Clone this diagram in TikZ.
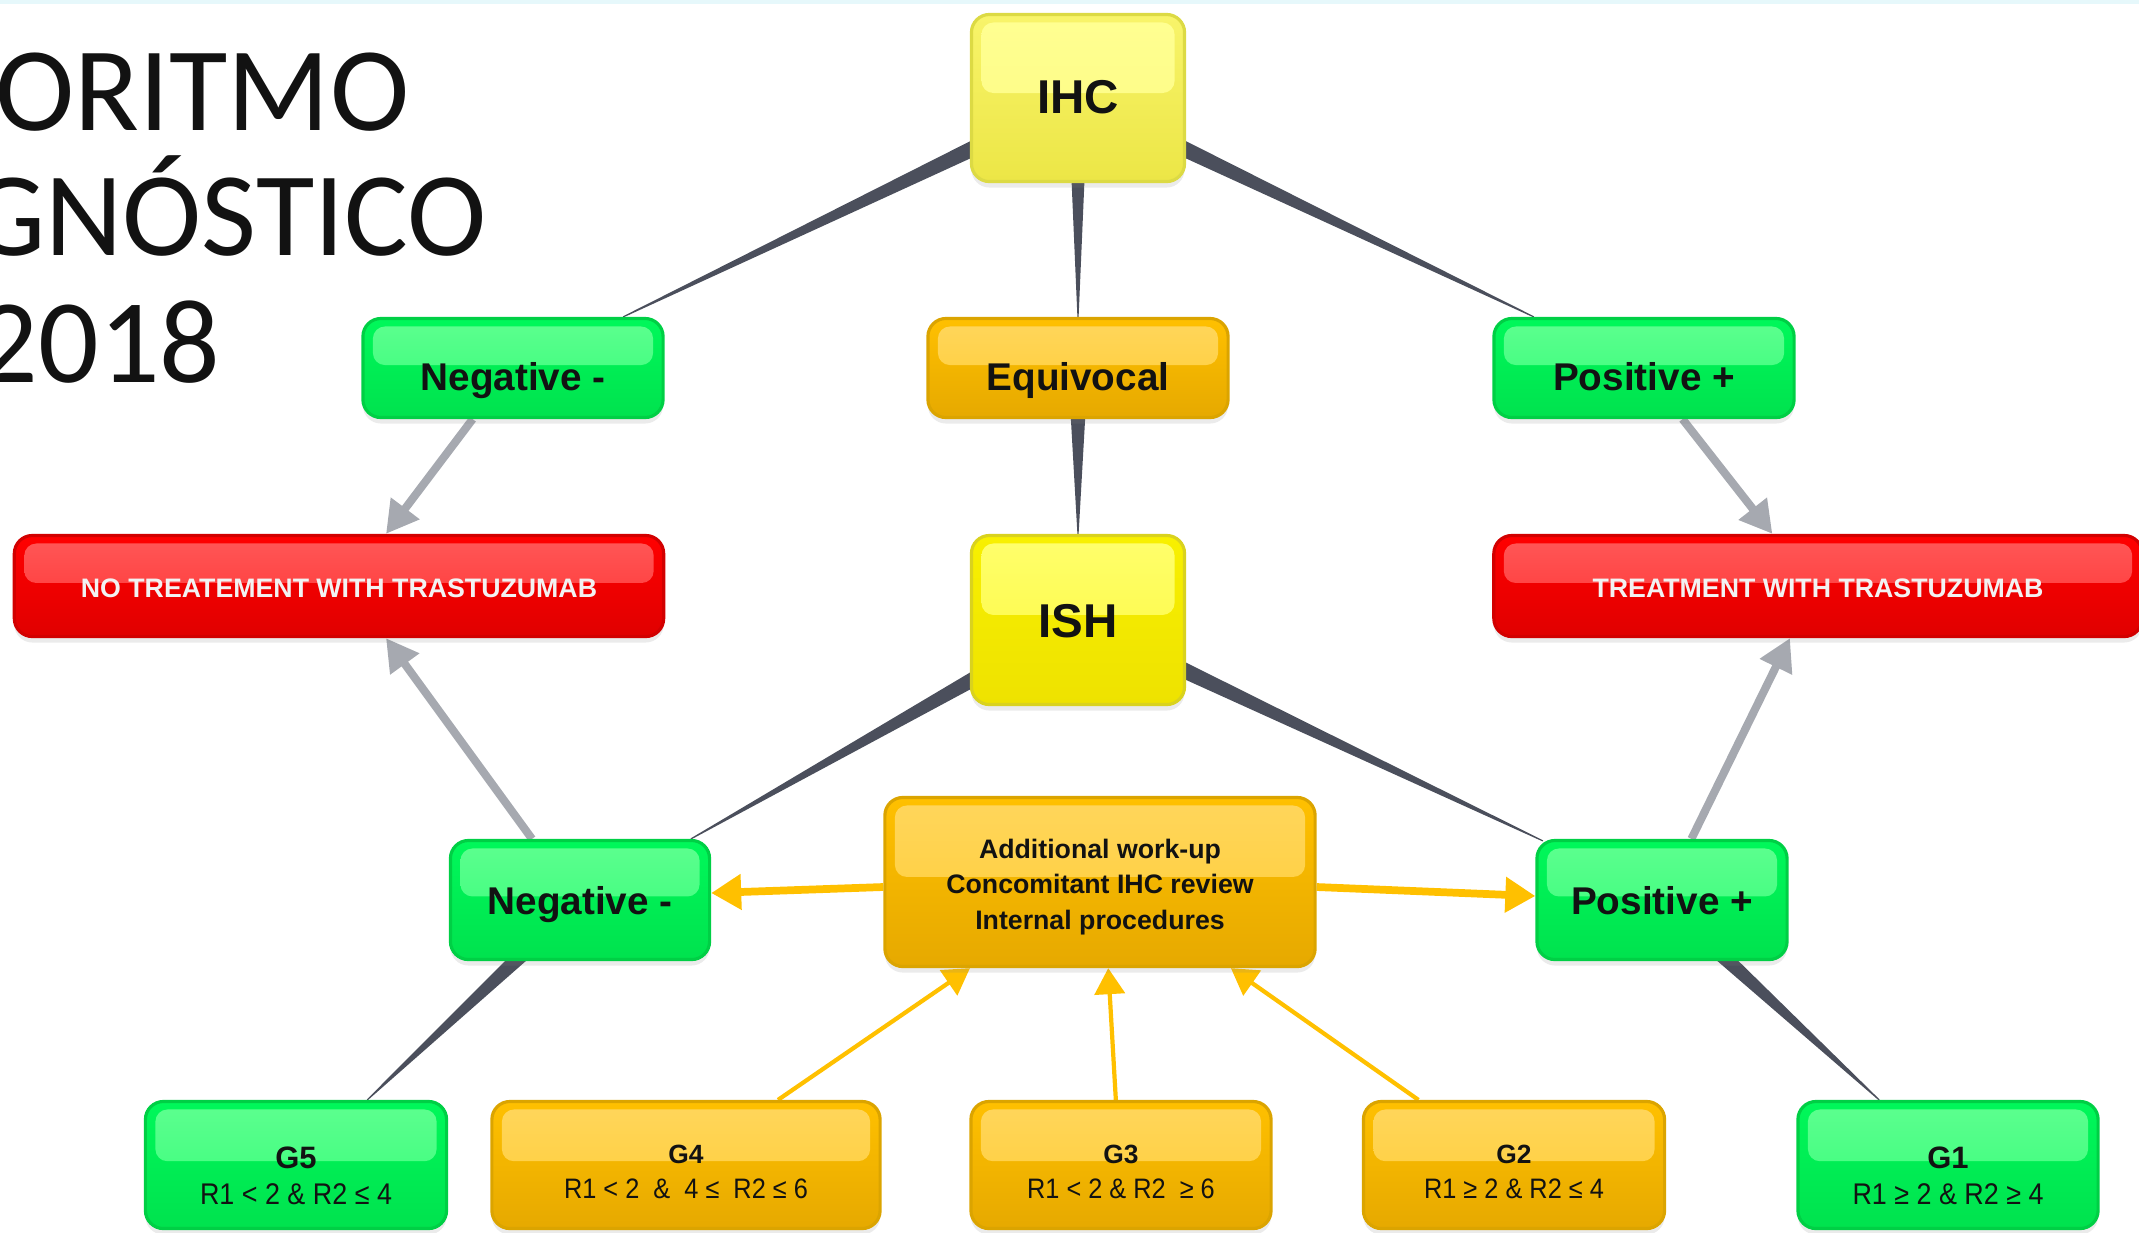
\documentclass[tikz,border=0pt]{standalone}
\usepackage{fontspec}
\setmainfont{Liberation Sans}
\newfontfamily\titlefont{Carlito}
\newfontfamily\condfont[FakeStretch=0.9]{Liberation Sans}
\usetikzlibrary{calc,arrows.meta,shadows,backgrounds}

% box palettes: B border, T top, D bottom, H gloss
\definecolor{grnB}{HTML}{00CF45}
\definecolor{grnT}{HTML}{00F85A}
\definecolor{grnD}{HTML}{00E24E}
\definecolor{grnH}{HTML}{5DFF8F}
\definecolor{ornB}{HTML}{DBA400}
\definecolor{ornT}{HTML}{FFC000}
\definecolor{ornD}{HTML}{E6A900}
\definecolor{ornH}{HTML}{FFD65C}
\definecolor{redB}{HTML}{D20000}
\definecolor{redT}{HTML}{FF0000}
\definecolor{redD}{HTML}{E00000}
\definecolor{redH}{HTML}{FF5858}
\definecolor{lylB}{HTML}{DCDA44}
\definecolor{lylT}{HTML}{F8F46A}
\definecolor{lylD}{HTML}{ECE646}
\definecolor{lylH}{HTML}{FFFF92}
\definecolor{ylwB}{HTML}{D9D21E}
\definecolor{ylwT}{HTML}{F8F000}
\definecolor{ylwD}{HTML}{EEE200}
\definecolor{ylwH}{HTML}{FFFF6C}
\definecolor{darkLink}{HTML}{4B4F5C}
\definecolor{grayLink}{HTML}{A6A9B0}
\definecolor{amberLink}{HTML}{FFC000}
\definecolor{ink}{HTML}{121212}
\definecolor{paleInk}{HTML}{F2F2F2}
\definecolor{topBand}{HTML}{E6F8FB}

\tikzset{
  box/.style={rectangle, rounded corners=0.18cm, draw=#1B, line width=0.9pt,
    top color=#1T, bottom color=#1D, inner sep=0pt,
    drop shadow={opacity=0.16, shadow xshift=0pt, shadow yshift=-0.06cm},
    path picture={\shade[top color=#1H, bottom color=#1H!55!#1T, rounded corners=0.12cm]
      ([xshift=0.1cm,yshift=-0.08cm]path picture bounding box.north west) rectangle
      ($(path picture bounding box.north east)!0.47!(path picture bounding box.south east)+(-0.1cm,0)$);}},
  lbl/.style={inner sep=0pt, anchor=base, text=ink, font=\bfseries\fontsize{11}{13}\selectfont},
  titletext/.style={inner sep=0pt, anchor=base east, text=ink, font=\titlefont\fontsize{34}{40}\selectfont},
  glink/.style={draw=grayLink, line width=2.3pt, -{Triangle[length=0.32cm,width=0.34cm]}},
  alink/.style={draw=amberLink, line width=2.2pt, -{Triangle[length=0.3cm,width=0.34cm]}},
  athin/.style={draw=amberLink, line width=1.2pt, -{Triangle[length=0.26cm,width=0.3cm]}},
  wedge/.style={fill=darkLink}
}

\newcommand\taper[2]{%
  \fill[wedge] ($(#1)!0.1cm!90:(#2)$) -- ($(#1)!0.1cm!-90:(#2)$)
    -- ($(#2)!0.006cm!90:(#1)$) -- ($(#2)!0.006cm!-90:(#1)$) -- cycle;}

\begin{document}
\begin{tikzpicture}[x=0.01cm, y=-0.01cm]
\useasboundingbox (0,0) rectangle (2139,1232);
\clip (0,0) rectangle (2139,1232);
\fill[topBand] (0,0) rectangle (2139,4);

% title
\node[titletext] (t1) at (410,130) {GORITMO};
\node[titletext] (t2) at (487,255) {GNÓSTICO};
\node[titletext] (t3) at (221,382) {2018};

% boxes
\node[box=lyl, minimum width=2.13cm, minimum height=1.67cm] (ihc) at (1078,98) {};
\node[box=grn, minimum width=3cm, minimum height=0.99cm] (negT) at (513,368) {};
\node[box=orn, minimum width=3cm, minimum height=0.99cm] (equ) at (1078,368) {};
\node[box=grn, minimum width=3cm, minimum height=0.99cm] (posT) at (1644,368) {};
\node[box=red, minimum width=6.49cm, minimum height=1.01cm] (noT) at (339,586) {};
\node[box=red, minimum width=6.48cm, minimum height=1.01cm] (yesT) at (1818,586) {};
\node[box=ylw, minimum width=2.13cm, minimum height=1.69cm] (ish) at (1078,620) {};
\node[box=grn, minimum width=2.59cm, minimum height=1.19cm] (negM) at (580,900) {};
\node[box=orn, minimum width=4.30cm, minimum height=1.69cm] (add) at (1100,882) {};
\node[box=grn, minimum width=2.50cm, minimum height=1.19cm] (posM) at (1662,900) {};
\node[box=grn, minimum width=3.01cm, minimum height=1.27cm] (g5) at (296,1165) {};
\node[box=orn, minimum width=3.88cm, minimum height=1.27cm] (g4) at (686,1165) {};
\node[box=orn, minimum width=3.00cm, minimum height=1.27cm] (g3) at (1121,1165) {};
\node[box=orn, minimum width=3.01cm, minimum height=1.27cm] (g2) at (1514,1165) {};
\node[box=grn, minimum width=3.00cm, minimum height=1.27cm] (g1) at (1948,1165) {};

% texts
\node[lbl, font=\bfseries\fontsize{13.5}{16}\selectfont] (ihcL) at ([yshift=-0.15cm]ihc.center) {IHC};
\node[lbl, font=\bfseries\fontsize{13.5}{16}\selectfont] (ishL) at ([yshift=-0.17cm]ish.center) {ISH};
\node[lbl] (negTL) at ([yshift=-0.22cm]negT.center) {Negative -};
\node[lbl] (equL) at ([yshift=-0.22cm]equ.center) {Equivocal};
\node[lbl] (posTL) at ([yshift=-0.22cm]posT.center) {Positive +};
\node[lbl] (negML) at ([yshift=-0.14cm]negM.center) {Negative -};
\node[lbl] (posML) at ([yshift=-0.14cm]posM.center) {Positive +};
\node[lbl, text=paleInk, font=\bfseries\fontsize{7.6}{9}\selectfont] (noTL) at ([yshift=-0.11cm]noT.center) {NO TREATEMENT WITH TRASTUZUMAB};
\node[lbl, text=paleInk, font=\bfseries\fontsize{7.6}{9}\selectfont] (yesTL) at ([yshift=-0.11cm]yesT.center) {TREATMENT WITH TRASTUZUMAB};
\node[lbl, anchor=center, align=center, font=\bfseries\fontsize{7.6}{10}\selectfont] (addL) at ([yshift=-0.05cm]add.center)
  {Additional work-up\\Concomitant IHC review\\Internal procedures};

\node[lbl, font=\bfseries\fontsize{8.8}{10}\selectfont] (g5a) at ([yshift=-0.03cm]g5.center) {G5};
\node[lbl, font=\condfont\fontsize{8.5}{10}\selectfont] (g5b) at ([yshift=-0.39cm]g5.center) {R1 < 2 \& R2 ≤ 4};
\node[lbl, font=\bfseries\fontsize{7.5}{9}\selectfont] (g4a) at ([yshift=0.02cm]g4.center) {G4};
\node[lbl, font=\condfont\fontsize{8}{10}\selectfont] (g4b) at ([yshift=-0.33cm]g4.center) {R1 < 2 \ \& \ 4 ≤ \ R2 ≤ 6};
\node[lbl, font=\bfseries\fontsize{7.5}{9}\selectfont] (g3a) at ([yshift=0.02cm]g3.center) {G3};
\node[lbl, font=\condfont\fontsize{8}{10}\selectfont] (g3b) at ([yshift=-0.33cm]g3.center) {R1 < 2 \& R2 \ ≥ 6};
\node[lbl, font=\bfseries\fontsize{7.5}{9}\selectfont] (g2a) at ([yshift=0.02cm]g2.center) {G2};
\node[lbl, font=\condfont\fontsize{8}{10}\selectfont] (g2b) at ([yshift=-0.33cm]g2.center) {R1 ≥ 2 \& R2 ≤ 4};
\node[lbl, font=\bfseries\fontsize{8.8}{10}\selectfont] (g1a) at ([yshift=-0.03cm]g1.center) {G1};
\node[lbl, font=\condfont\fontsize{8.5}{10}\selectfont] (g1b) at ([yshift=-0.39cm]g1.center) {R1 ≥ 2 \& R2 ≥ 4};

% connector end points on box borders
\coordinate (eNegT) at ($(negT.north west)!0.863!(negT.north east)$);
\coordinate (ePosT) at ($(posT.north west)!0.137!(posT.north east)$);
\coordinate (eNegM) at ($(negM.north west)!0.923!(negM.north east)$);
\coordinate (ePosM) at ($(posM.north west)!0.03!(posM.north east)+(0,-0.02cm)$);
\coordinate (eG5) at ($(g5.north west)!0.734!(g5.north east)$);
\coordinate (eG1) at ($(g1.north west)!0.273!(g1.north east)$);

\begin{scope}[on background layer]
  % tapered tree links
  \taper{ihc.center}{eNegT}
  \taper{ihc.center}{ePosT}
  \taper{ihc.center}{equ.north}
  \taper{equ.center}{ish.north}
  \taper{ish.center}{eNegM}
  \taper{ish.center}{ePosM}
  \taper{negM.center}{eG5}
  \taper{posM.center}{eG1}

  % outcome arrows
  \draw[glink] ($(negT.south west)!0.367!(negT.south east)$) -- ($(noT.north west)!0.572!(noT.north east)$);
  \draw[glink] ($(negM.north west)!0.317!(negM.north east)$) -- ($(noT.south west)!0.572!(noT.south east)$);
  \draw[glink] ($(posT.south west)!0.627!(posT.south east)$) -- ($(yesT.north west)!0.43!(yesT.north east)$);
  \draw[glink] ($(posM.north west)!0.616!(posM.north east)$) -- ($(yesT.south west)!0.457!(yesT.south east)$);

  % work-up arrows
  \draw[alink] ([yshift=-0.05cm]add.west) -- ([yshift=0.07cm]negM.east);
  \draw[alink] ([yshift=-0.05cm]add.east) -- ([yshift=0.04cm]posM.west);
  \draw[athin] ($(g4.north west)!0.735!(g4.north east)$) -- ($(add.south west)!0.2!(add.south east)$);
  \draw[athin] ($(g3.north west)!0.483!(g3.north east)$) -- ($(add.south west)!0.519!(add.south east)$);
  \draw[athin] ($(g2.north west)!0.186!(g2.north east)$) -- ($(add.south west)!0.802!(add.south east)$);
\end{scope}
\end{tikzpicture}
\end{document}
